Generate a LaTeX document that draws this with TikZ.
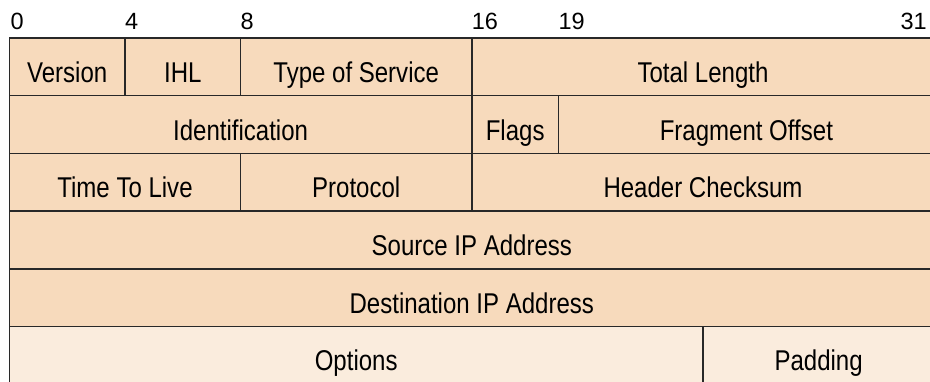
\documentclass[tikz,border=0pt]{standalone}
\usepackage{fontspec}
\setmainfont[FakeStretch=0.84]{Liberation Sans}
\newfontfamily\digitfont{Liberation Sans}
\definecolor{peach}{RGB}{247,218,188}
\definecolor{lightpeach}{RGB}{250,236,221}
\definecolor{rule}{RGB}{40,40,40}
\begin{document}
\begin{tikzpicture}[x=1pt,y=-1pt,
  field/.style={draw=rule, line width=1.4pt, fill=peach, anchor=north west,
    inner sep=0pt, minimum height=57.7pt, text height=44.4pt, text depth=13.3pt,
    font=\fontsize{28.6}{30}\selectfont},
  optfield/.style={field, fill=lightpeach},
  bitlabel/.style={inner sep=0pt, anchor=base west, font=\digitfont\fontsize{23.5}{26}\selectfont}]
\useasboundingbox (0,0) rectangle (930,381);
\clip (0,0) rectangle (930,381);
\def\bw{28.9}
% row 1
\node[field, minimum width=4*\bw pt] (version) at (8.7,37.3) {Version};
\node[field, minimum width=4*\bw pt] (ihl) at (8.7+4*\bw,37.3) {IHL};
\node[field, minimum width=8*\bw pt] (tos) at (8.7+8*\bw,37.3) {Type of Service};
\node[field, minimum width=16*\bw pt] (totlen) at (8.7+16*\bw,37.3) {Total Length};
% row 2
\node[field, minimum width=16*\bw pt] (ident) at (8.7,95.0) {Identification};
\node[field, minimum width=3*\bw pt] (flags) at (8.7+16*\bw,95.0) {Flags};
\node[field, minimum width=13*\bw pt] (fragoff) at (8.7+19*\bw,95.0) {Fragment Offset};
% row 3
\node[field, minimum width=8*\bw pt] (ttl) at (8.7,152.7) {Time To Live};
\node[field, minimum width=8*\bw pt] (proto) at (8.7+8*\bw,152.7) {Protocol};
\node[field, minimum width=16*\bw pt] (checksum) at (8.7+16*\bw,152.7) {Header Checksum};
% row 4
\node[field, minimum width=32*\bw pt] (src) at (8.7,210.4) {Source IP Address};
% row 5
\node[field, minimum width=32*\bw pt] (dst) at (8.7,268.1) {Destination IP Address};
% row 6
\node[optfield, minimum width=24*\bw pt] (options) at (8.7,325.8) {Options};
\node[optfield, minimum width=8*\bw pt] (padding) at (8.7+24*\bw,325.8) {Padding};
% bit labels
\node[bitlabel] (b0) at (10.5,29) {0};
\node[bitlabel] (b4) at (8.7+4*\bw+0.5,29) {4};
\node[bitlabel] (b8) at (8.7+8*\bw+0.5,29) {8};
\node[bitlabel] (b16) at (8.7+16*\bw+0.5,29) {16};
\node[bitlabel] (b19) at (8.7+19*\bw+0.5,29) {19};
\node[bitlabel, anchor=base east] (b31) at (927,29) {31};
\end{tikzpicture}
\end{document}
